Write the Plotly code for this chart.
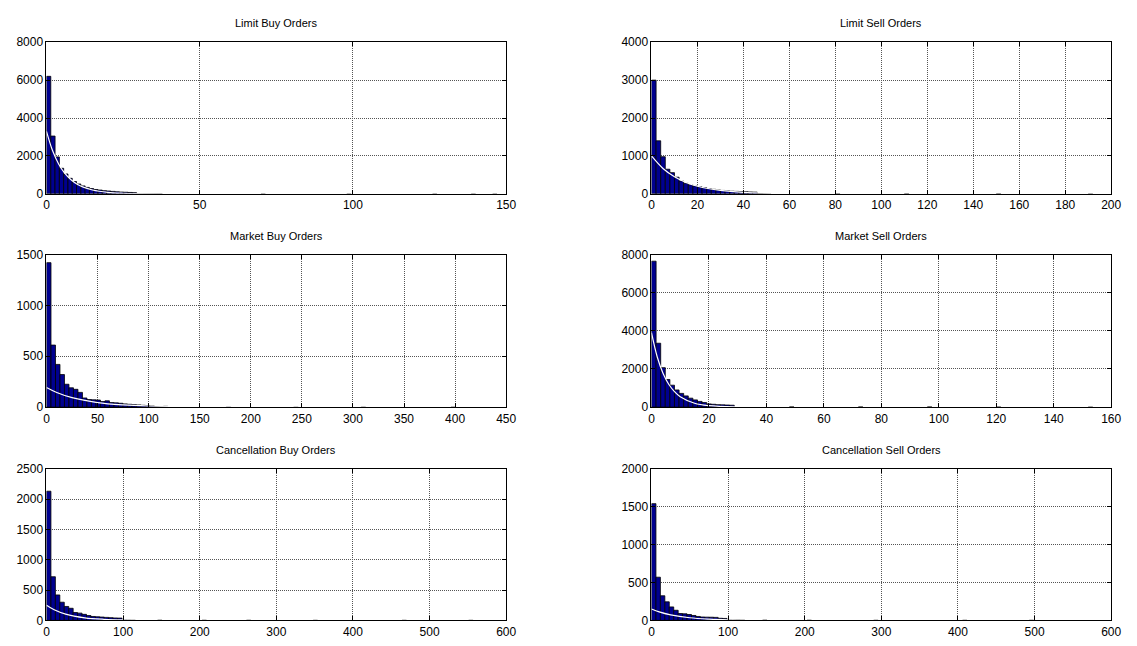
import plotly.graph_objects as go
from plotly.subplots import make_subplots

# ---------------- data ----------------
TITLES = ["Limit Buy Orders", "Limit Sell Orders",
          "Market Buy Orders", "Market Sell Orders",
          "Cancellation Buy Orders", "Cancellation Sell Orders"]

# histogram bin widths
LB_W = 1.4
LS_W = 2.0
MB_W = 4.4
MS_W = 1.6
CB_W = 5.8
CS_W = 5.8

# counts per bin, starting at 0
LB_COUNTS = [6200, 3050, 1950, 1350, 1050, 820, 650, 520, 420, 340, 280, 230, 200,
             170, 150, 130, 110, 95, 85, 75, 65, 6, 5, 4, 3, 3, 2]
LS_COUNTS = [3000, 1400, 980, 650, 560, 440, 340, 280, 240, 210, 185, 165, 140, 120,
             105, 90, 80, 70, 65, 60, 55, 50, 45, 5, 4, 3]
MB_COUNTS = [1420, 610, 420, 320, 225, 190, 175, 145, 90, 75, 72, 70, 55, 62, 45, 42,
             38, 32, 28, 25, 22, 18, 15, 12, 6, 4, 8]
MS_COUNTS = [7650, 3350, 2070, 1450, 1150, 900, 720, 590, 470, 380, 300, 240, 170,
             150, 130, 120, 110, 100]
CB_COUNTS = [2130, 720, 420, 300, 230, 200, 130, 120, 100, 80, 65, 60, 55, 50, 45,
             40, 38, 10, 6, 4]
CS_COUNTS = [1540, 570, 325, 245, 178, 134, 91, 87, 78, 65, 52, 45, 43, 42, 40, 28,
             26, 8, 5, 6, 4]

# sparse far-tail bins: (bin index, count)
LB_TAIL_BIN = [50, 70, 90, 104, 99]
LB_TAIL_CNT = [3, 2, 3, 2, 4]
LS_TAIL_BIN = [40, 55, 75, 95]
LS_TAIL_CNT = [3, 2, 2, 2]
MB_TAIL_BIN = [40, 55, 70, 90]
MB_TAIL_CNT = [3, 2, 2, 2]
MS_TAIL_BIN = [30, 45, 60, 75, 95]
MS_TAIL_CNT = [8, 5, 6, 4, 5]
CB_TAIL_BIN = [25, 35, 45, 60, 80, 95]
CB_TAIL_CNT = [4, 3, 3, 2, 2, 2]
CS_TAIL_BIN = [25, 35, 50, 70, 85]
CS_TAIL_CNT = [4, 3, 2, 2, 2]

# white exponential-fit curves
LB_FIT_X = [0, 2, 4, 6, 8, 10, 12, 15, 20, 25, 30, 40, 60, 150]
LB_FIT_Y = [3300, 2270, 1565, 1080, 745, 512, 353, 202, 80, 31, 12, 2, 0, 0]
LS_FIT_X = [0, 5, 10, 15, 20, 30, 40, 60, 200]
LS_FIT_Y = [1000, 670, 450, 300, 200, 90, 40, 8, 0]
MB_FIT_X = [0, 10, 25, 50, 75, 100, 150, 450]
MB_FIT_Y = [193, 144, 93, 45, 22, 11, 2, 0]
MS_FIT_X = [0, 2, 4, 6, 8, 10, 15, 20, 30, 160]
MS_FIT_Y = [3900, 2630, 1780, 1200, 815, 550, 205, 77, 11, 0]
CB_FIT_X = [0, 10, 25, 50, 75, 100, 150, 600]
CB_FIT_Y = [250, 176, 104, 43, 18, 8, 1, 0]
CS_FIT_X = [0, 10, 25, 50, 75, 100, 150, 600]
CS_FIT_Y = [150, 112, 73, 35, 17, 8, 2, 0]

# axis ranges and ticks
X_MAX = [150, 200, 450, 160, 600, 600]
X_DTICK = [50, 20, 50, 20, 100, 100]
Y_MAX = [8000, 4000, 1500, 8000, 2500, 2000]
Y_DTICK = [2000, 1000, 500, 2000, 500, 500]

PANELS = [
    (LB_W, LB_COUNTS, LB_TAIL_BIN, LB_TAIL_CNT, LB_FIT_X, LB_FIT_Y),
    (LS_W, LS_COUNTS, LS_TAIL_BIN, LS_TAIL_CNT, LS_FIT_X, LS_FIT_Y),
    (MB_W, MB_COUNTS, MB_TAIL_BIN, MB_TAIL_CNT, MB_FIT_X, MB_FIT_Y),
    (MS_W, MS_COUNTS, MS_TAIL_BIN, MS_TAIL_CNT, MS_FIT_X, MS_FIT_Y),
    (CB_W, CB_COUNTS, CB_TAIL_BIN, CB_TAIL_CNT, CB_FIT_X, CB_FIT_Y),
    (CS_W, CS_COUNTS, CS_TAIL_BIN, CS_TAIL_CNT, CS_FIT_X, CS_FIT_Y),
]

# ---------------- figure ----------------
W, H = 1137, 646
fig = make_subplots(rows=3, cols=2)

X_DOM = [(44 / W, 509 / W), (656 / W, 1121 / W)]
ROW_PX = [(36, 191), (253, 409), (472, 627)]
Y_DOM = [(1 - b / H, 1 - t / H) for t, b in ROW_PX]

FONT = "Liberation Sans, Arial, Helvetica, sans-serif"
GRID = dict(showgrid=True, gridcolor="#555555", griddash="1px,1px", gridwidth=1,
            showline=True, linecolor="black", linewidth=1, mirror="ticks",
            ticks="inside", ticklen=4, tickcolor="black", zeroline=False,
            tickfont=dict(family=FONT, size=12, color="black"))

for i, (w, counts, tb, tc, fx, fy) in enumerate(PANELS):
    r, c = i // 2 + 1, i % 2 + 1
    bins = list(range(len(counts))) + list(tb)
    vals = list(counts) + list(tc)
    xs = [(b + 0.5) * w for b in bins]
    fig.add_trace(go.Bar(x=xs, y=vals, width=w,
                         marker=dict(color="#00008f",
                                     line=dict(color="black", width=0.8)),
                         showlegend=False, hoverinfo="skip"), row=r, col=c)
    fig.add_trace(go.Scatter(x=fx, y=fy, mode="lines",
                             line=dict(color="white", width=1.2, shape="spline"),
                             showlegend=False, hoverinfo="skip"), row=r, col=c)

    axn = "" if i == 0 else str(i + 1)
    fig.layout["xaxis" + axn].update(domain=X_DOM[c - 1], range=[0, X_MAX[i]],
                                     dtick=X_DTICK[i], tick0=0, **GRID)
    fig.layout["yaxis" + axn].update(domain=Y_DOM[r - 1], range=[0, Y_MAX[i]],
                                     dtick=Y_DTICK[i], tick0=0, **GRID)

    fig.add_annotation(text=TITLES[i], x=sum(X_DOM[c - 1]) / 2, y=Y_DOM[r - 1][1],
                       xref="paper", yref="paper", xanchor="center",
                       yanchor="bottom", yshift=11, showarrow=False,
                       font=dict(family=FONT, size=11, color="black"))

fig.update_layout(width=W, height=H, margin=dict(l=0, r=0, t=0, b=0),
                  paper_bgcolor="white", plot_bgcolor="white",
                  bargap=0, showlegend=False)

fig.write_html("out.html",
               config={"displayModeBar": False, "staticPlot": True},
               post_script="document.body.style.margin='0';"
                           "document.body.style.overflow='hidden';")
